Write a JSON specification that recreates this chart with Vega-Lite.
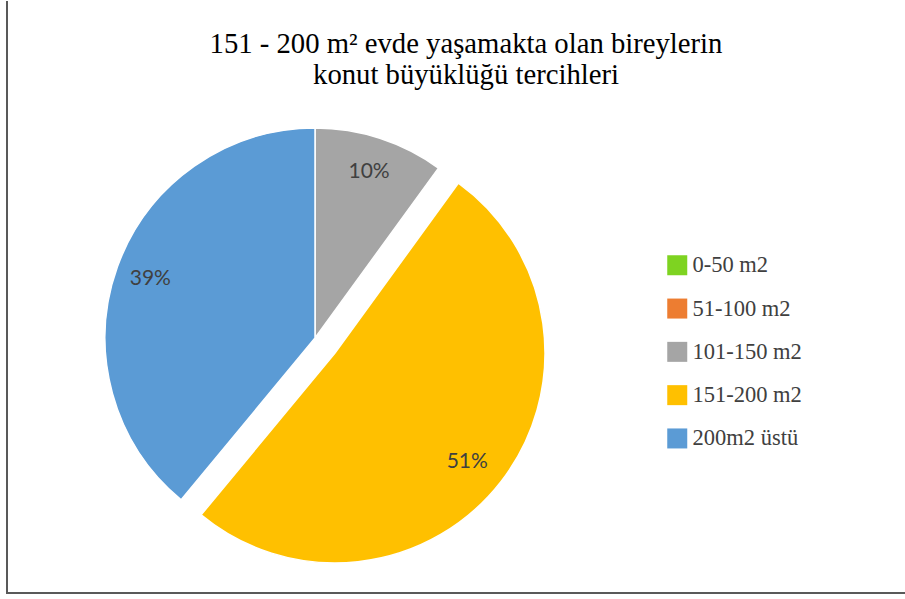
{
  "$schema": "https://vega.github.io/schema/vega-lite/v6.json",
  "autosize": "none",
  "width": 898,
  "height": 592,
  "padding": {"left": 7, "top": 1, "right": 0, "bottom": 6},
  "background": "white",
  "config": {
    "view": {"stroke": null}
  },
  "title": {
    "text": ["151 - 200 m² evde yaşamakta olan bireylerin", "konut büyüklüğü tercihleri"],
    "font": "Liberation Serif",
    "fontSize": 28.7,
    "fontWeight": "normal",
    "color": "#000000",
    "anchor": "middle",
    "lineHeight": 31,
    "offset": -90,
    "dx": 10
  },
  "data": {
    "values": [
      {"kategori": "0-50 m2", "oran": 0},
      {"kategori": "51-100 m2", "oran": 0},
      {"kategori": "101-150 m2", "oran": 0.10},
      {"kategori": "151-200 m2", "oran": 0.51},
      {"kategori": "200m2 üstü", "oran": 0.39}
    ]
  },
  "layer": [
    {
      "data": {"values": [{"cerceve": "border"}]},
      "mark": {"type": "rect", "fill": null, "stroke": "#595959", "strokeWidth": 2, "strokeDash": [0, 1490, 1490]},
      "encoding": {
        "x": {"value": 0},
        "x2": {"value": "width"},
        "y": {"value": 0},
        "y2": {"value": "height"}
      }
    },
    {
      "mark": {"type": "arc", "radius": 210, "x": 308, "y": 337, "stroke": "white", "strokeWidth": 1.5},
      "encoding": {
        "theta": {"field": "oran", "type": "quantitative", "stack": true},
        "order": {"field": "kategori", "sort": "ascending"},
        "color": {
          "field": "kategori",
          "type": "nominal",
          "scale": {
            "domain": ["0-50 m2", "51-100 m2", "101-150 m2", "151-200 m2", "200m2 üstü"],
            "range": ["#7ED321", "#ED7D31", "#A5A5A5", "#FFC000", "#5B9BD5"]
          },
          "legend": {
            "title": null,
            "orient": "none",
            "legendX": 659,
            "legendY": 253,
            "symbolType": "square",
            "symbolSize": 400,
            "symbolStrokeWidth": 0,
            "labelFont": "Liberation Serif",
            "labelFontSize": 22.5,
            "labelColor": "#404040",
            "labelOffset": 4,
            "rowPadding": 20.3
          }
        },
        "opacity": {"condition": {"test": "datum.kategori == '151-200 m2'", "value": 0}, "value": 1}
      }
    },
    {
      "mark": {"type": "arc", "radius": 210, "x": 308, "y": 337, "xOffset": 20, "yOffset": 15, "stroke": "white", "strokeWidth": 1.5},
      "encoding": {
        "theta": {"field": "oran", "type": "quantitative", "stack": true},
        "order": {"field": "kategori", "sort": "ascending"},
        "color": {"field": "kategori", "type": "nominal"},
        "opacity": {"condition": {"test": "datum.kategori != '151-200 m2'", "value": 0}, "value": 1}
      }
    },
    {
      "mark": {"type": "text", "radius": 175, "x": 308, "y": 337, "font": "Lato", "fontSize": 21, "color": "#404040"},
      "encoding": {
        "theta": {"field": "oran", "type": "quantitative", "stack": true},
        "order": {"field": "kategori", "sort": "ascending"},
        "text": {
          "condition": {"test": "datum.oran == 0 || datum.kategori == '151-200 m2'", "value": ""},
          "field": "oran", "type": "quantitative", "format": ".0%"
        }
      }
    },
    {
      "mark": {"type": "text", "radius": 175, "x": 308, "y": 337, "xOffset": 14, "yOffset": 17, "font": "Lato", "fontSize": 21, "color": "#404040"},
      "encoding": {
        "theta": {"field": "oran", "type": "quantitative", "stack": true},
        "order": {"field": "kategori", "sort": "ascending"},
        "text": {
          "condition": {"test": "datum.kategori != '151-200 m2'", "value": ""},
          "field": "oran", "type": "quantitative", "format": ".0%"
        }
      }
    }
  ]
}
